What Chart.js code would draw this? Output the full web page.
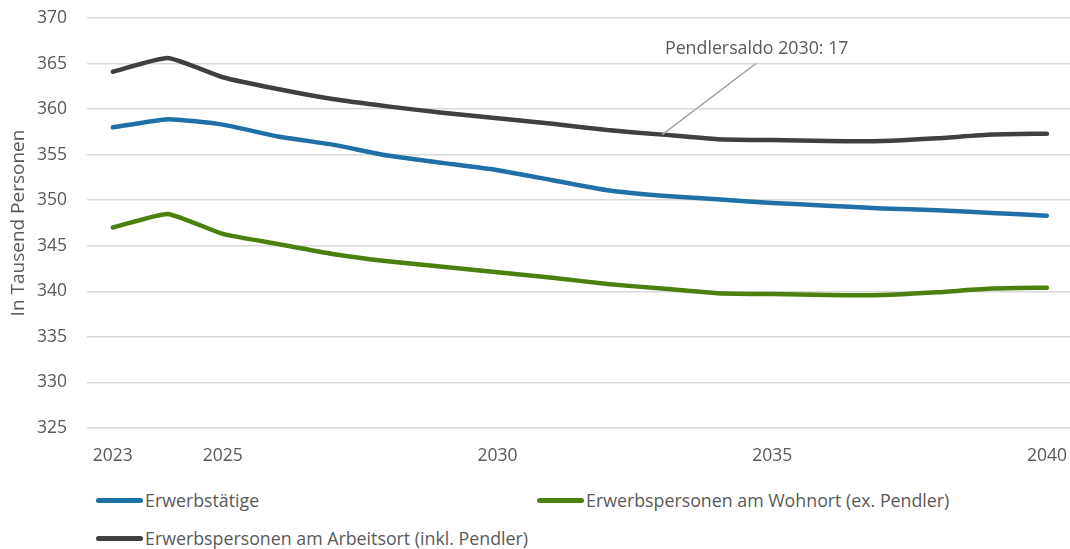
<!DOCTYPE html>
<html>
<head>
<meta charset="utf-8">
<script src="https://cdn.jsdelivr.net/npm/chart.js@4/dist/chart.umd.min.js"></script>
<style>
  html, body { margin: 0; padding: 0; background: #fff; }
  body { width: 1070px; height: 549px; position: relative; overflow: hidden; font-family: "Open Sans", sans-serif; }
  #wrap { position: absolute; left: 0; top: 0; width: 1070px; height: 472px; }
  .legend { position: absolute; font-size: 17.8px; color: #595959; display: flex; align-items: center; white-space: nowrap; }
  .legend .swatch { display: inline-block; width: 47px; height: 5px; border-radius: 3px; margin-right: 2px; }
</style>
</head>
<body>
<div id="wrap"><canvas id="chart"></canvas></div>
<div id="legend"></div>
<script>
// Jahre (x-Achse)
const years = [2023, 2024, 2025, 2026, 2027, 2028, 2029, 2030, 2031, 2032, 2033, 2034, 2035, 2036, 2037, 2038, 2039, 2040];
const xTickLabels = [2023, 2025, 2030, 2035, 2040];

// Werte in Tausend Personen
const erwerbstaetige = [358.0, 358.9, 358.3, 357.0, 356.1, 354.9, 354.1, 353.3, 352.2, 351.1, 350.5, 350.1, 349.7, 349.4, 349.1, 348.9, 348.6, 348.3];
const wohnort = [347.0, 348.5, 346.3, 345.2, 344.1, 343.3, 342.7, 342.1, 341.5, 340.8, 340.3, 339.8, 339.7, 339.6, 339.6, 339.9, 340.3, 340.4];
const arbeitsort = [364.1, 365.6, 363.5, 362.2, 361.1, 360.3, 359.6, 359.0, 358.4, 357.7, 357.2, 356.7, 356.6, 356.5, 356.5, 356.8, 357.2, 357.3];

const seriesNames = ["Erwerbstätige", "Erwerbspersonen am Wohnort (ex. Pendler)", "Erwerbspersonen am Arbeitsort (inkl. Pendler)"];
const seriesColors = ["#2070a8", "#4b800c", "#404040"];

const annotationText = "Pendlersaldo 2030: 17";
const annotationYear = 2033;   // Punkt auf der Arbeitsort-Linie
const labelAnchor = { x: 2034.7, y: 365 }; // Ende der Führungslinie (Datenkoordinaten)

const FONT = "'Open Sans', sans-serif";
const toPoints = (arr) => arr.map((v, i) => ({ x: years[i], y: v }));

const calloutPlugin = {
  id: "callout",
  afterDatasetsDraw(chart) {
    const { ctx, scales: { x, y } } = chart;
    const idx = years.indexOf(annotationYear);
    const px = x.getPixelForValue(annotationYear);
    const py = y.getPixelForValue(arbeitsort[idx]);
    const lx = x.getPixelForValue(labelAnchor.x);
    const ly = y.getPixelForValue(labelAnchor.y);
    ctx.save();
    ctx.strokeStyle = "#a6a6a6";
    ctx.lineWidth = 1.5;
    ctx.beginPath();
    ctx.moveTo(px, py);
    ctx.lineTo(lx, ly);
    ctx.stroke();
    ctx.fillStyle = "#595959";
    ctx.font = "17.8px " + FONT;
    ctx.textAlign = "center";
    ctx.textBaseline = "bottom";
    ctx.fillText(annotationText, lx + 1, ly - 6);
    ctx.restore();
  },
};

const datasets = [erwerbstaetige, wohnort, arbeitsort].map((arr, i) => ({
  label: seriesNames[i],
  data: toPoints(arr),
  borderColor: seriesColors[i],
  backgroundColor: seriesColors[i],
  borderWidth: 4.5,
  pointRadius: 0,
  tension: 0.15,
  borderCapStyle: "round",
  borderJoinStyle: "round",
}));

new Chart(document.getElementById("chart"), {
  type: "line",
  data: { datasets },
  options: {
    responsive: true,
    maintainAspectRatio: false,
    animation: false,
    layout: { padding: { top: 18, right: 0, bottom: 0, left: 0 } },
    plugins: {
      legend: { display: false },
      tooltip: { enabled: false },
    },
    scales: {
      x: {
        type: "linear",
        min: 2022.53,
        max: 2040.42,
        afterBuildTicks: (axis) => { axis.ticks = xTickLabels.map((v) => ({ value: v })); },
        afterFit: (axis) => { axis.paddingLeft = 0; axis.paddingRight = 0; axis.height = 44; },
        ticks: {
          color: "#595959",
          font: { family: FONT, size: 17.5 },
          padding: 18,
          maxRotation: 0,
          autoSkip: false,
          callback: (v) => String(v),
        },
        grid: { display: false, drawTicks: false },
        border: { display: false },
      },
      y: {
        min: 325,
        max: 370,
        afterFit: (axis) => { axis.paddingTop = 0; axis.paddingBottom = 0; axis.width = 87; },
        ticks: {
          stepSize: 5,
          color: "#595959",
          font: { family: FONT, size: 17.5 },
          padding: 20,
        },
        title: {
          display: true,
          text: "In Tausend Personen",
          color: "#595959",
          font: { family: FONT, size: 19 },
          padding: { top: 7, bottom: 0 },
        },
        grid: { color: "#d9d9d9", lineWidth: 1.5, drawTicks: false },
        border: { display: false },
      },
    },
  },
  plugins: [calloutPlugin],
});

// Legende (HTML)
const legendPos = [
  { left: 96, top: 488 },
  { left: 537, top: 488 },
  { left: 96, top: 526 },
];
const legendEl = document.getElementById("legend");
seriesNames.forEach((name, i) => {
  const item = document.createElement("div");
  item.className = "legend";
  item.style.left = legendPos[i].left + "px";
  item.style.top = legendPos[i].top + "px";
  item.innerHTML = `<span class="swatch" style="background:${seriesColors[i]}"></span><span>${name}</span>`;
  legendEl.appendChild(item);
});
</script>
</body>
</html>
